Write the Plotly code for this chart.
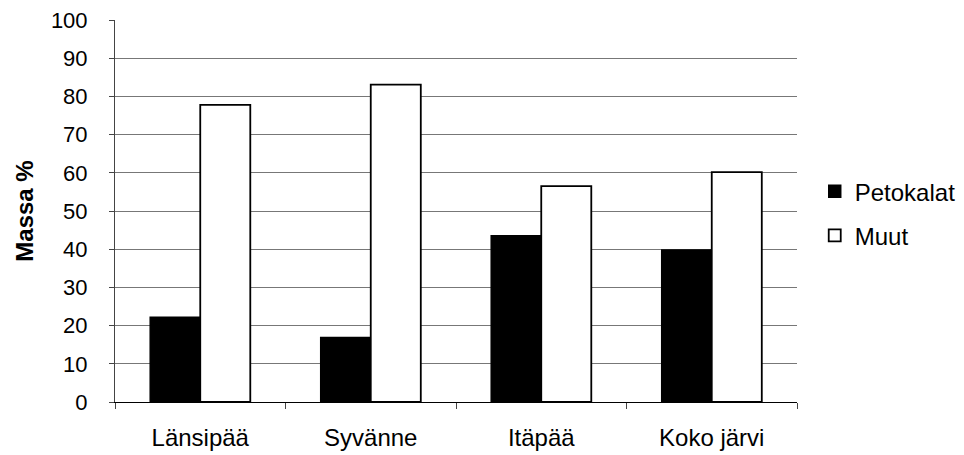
import plotly.graph_objects as go

# Kalaston massajakauma järven osa-alueittain
categories = ["Länsipää", "Syvänne", "Itäpää", "Koko järvi"]
petokalat = [22.2, 16.9, 43.5, 39.8]
muut = [77.8, 83.1, 56.5, 60.2]
y_ticks = list(range(0, 101, 10))

FONT = "Liberation Sans, Arial, sans-serif"

fig = go.Figure()
fig.add_trace(go.Bar(
    name="Petokalat", x=categories, y=petokalat,
    marker=dict(color="black", line=dict(color="black", width=1.5)),
    legendgroup="a",
))
fig.add_trace(go.Bar(
    name="Muut", x=categories, y=muut,
    marker=dict(color="white", line=dict(color="black", width=1.8)),
    legendgroup="b",
))

fig.update_layout(
    width=964, height=455,
    margin=dict(l=115, r=167, t=20, b=53, autoexpand=False),
    paper_bgcolor="white", plot_bgcolor="white",
    barmode="group", bargap=0.413, bargroupgap=0,
    font=dict(family=FONT, size=22, color="black"),
    legend=dict(
        x=1.026, xanchor="left", y=0.493, yanchor="middle",
        font=dict(size=24), tracegroupgap=10, traceorder="grouped",
        itemwidth=30, bgcolor="rgba(0,0,0,0)",
    ),
    xaxis=dict(
        showgrid=False, showline=True, linecolor="black", linewidth=1,
        ticks="outside", tickson="boundaries", ticklen=6, tickcolor="#444",
        ticklabelstandoff=14, tickfont=dict(size=24), automargin=False,
    ),
    yaxis=dict(
        range=[0, 100], tickvals=y_ticks, showgrid=True, gridcolor="#777",
        gridwidth=1, showline=True, linecolor="#444", linewidth=1,
        ticks="outside", ticklen=5, tickcolor="#444", tickfont=dict(size=22),
        ticklabelstandoff=17, zeroline=False, automargin=False,
        title=dict(text="<b>Massa %</b>", font=dict(size=24), standoff=10),
    ),
)

fig.write_html("out.html")
